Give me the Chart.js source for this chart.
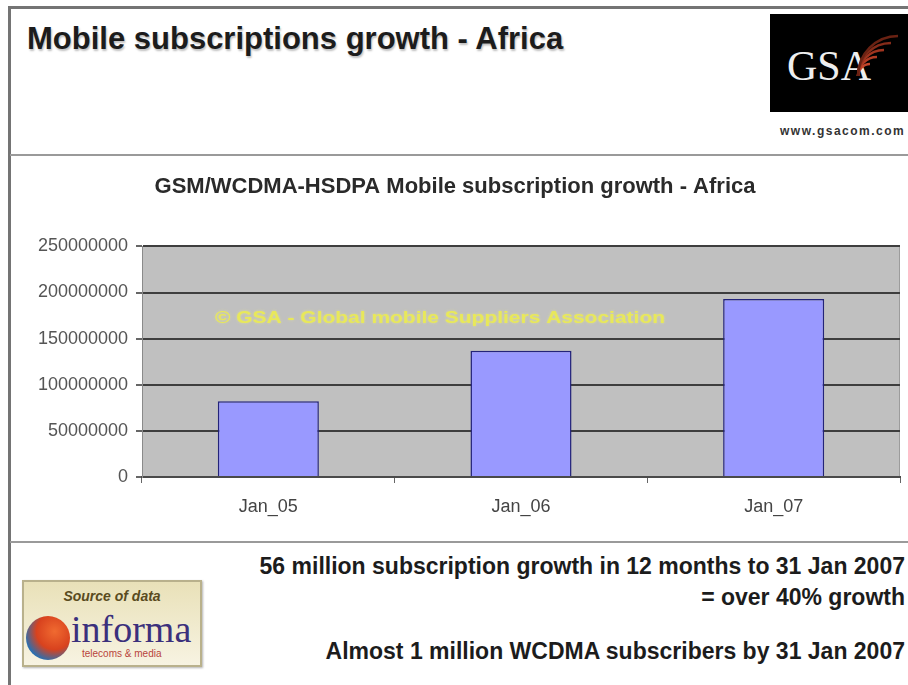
<!DOCTYPE html>
<html lang="en">
<head>
<meta charset="UTF-8">
<title>Mobile subscriptions growth - Africa</title>
<script src="https://cdn.jsdelivr.net/npm/chart.js"></script>
<style>
  body {
    margin: 0;
    width: 908px;
    height: 685px;
    background: #fff;
    position: relative;
    overflow: hidden;
    font-family: "Liberation Sans", Arial, sans-serif;
  }
  /* slide frame */
  .frame {
    position: absolute;
    left: 8px;
    top: 6px;
    width: 940px;
    height: 720px;
    border-left: 3px solid #747474;
    border-top: 3px solid #747474;
  }
  .heading {
    position: absolute;
    left: 27px;
    top: 21px;
    font-size: 31px;
    font-weight: bold;
    color: #1c1c1c;
    white-space: nowrap;
    text-shadow: 1px 2px 2px rgba(0, 0, 0, 0.25);
  }
  .gsa {
    position: absolute;
    left: 770px;
    top: 14px;
    width: 140px;
    height: 98px;
    background: #000;
  }
  .gsa span {
    position: absolute;
    left: 17px;
    top: 28px;
    font-family: "Liberation Serif", "DejaVu Serif", serif;
    font-size: 42px;
    color: #eee;
  }
  .gsa svg {
    position: absolute;
    left: 82px;
    top: 6px;
  }
  .gsa-url {
    position: absolute;
    left: 780px;
    top: 124px;
    font-size: 12px;
    font-weight: bold;
    letter-spacing: 1.5px;
    color: #333;
    white-space: nowrap;
  }
  /* panel holding the chart */
  .panel {
    position: absolute;
    left: 10px;
    top: 154px;
    width: 898px;
    height: 385px;
    border-top: 2px solid #9a9a9a;
    border-bottom: 2px solid #9a9a9a;
  }
  #chart {
    position: absolute;
    left: 10px;
    top: 156px;
  }
  .note {
    position: absolute;
    right: 3px;
    font-size: 23px;
    font-weight: bold;
    color: #1c1c1c;
    white-space: nowrap;
  }
  .source {
    position: absolute;
    left: 22px;
    top: 580px;
    width: 176px;
    height: 83px;
    background: linear-gradient(#e9e1b8, #f7f3e2);
    border: 2px solid #b9b18c;
    box-shadow: 1px 1px 2px rgba(0, 0, 0, 0.3);
  }
  .source .lbl {
    position: absolute;
    left: 0;
    width: 176px;
    top: 6px;
    text-align: center;
    font-size: 14px;
    font-style: italic;
    font-weight: bold;
    color: #5a4b1e;
  }
  .source .globe {
    position: absolute;
    left: 2px;
    top: 34px;
    width: 44px;
    height: 44px;
    border-radius: 50%;
    background: radial-gradient(circle at 65% 35%, #f06a30 0%, #d8421e 45%, #2a6fb0 75%, #1d4f8a 100%);
  }
  .source .brand {
    position: absolute;
    left: 47px;
    top: 25px;
    font-family: "Liberation Serif", "DejaVu Serif", serif;
    font-size: 38px;
    color: #3b307c;
  }
  .source .sub {
    position: absolute;
    left: 58px;
    top: 66px;
    font-size: 10px;
    color: #b8443c;
    white-space: nowrap;
  }
</style>
</head>
<body>

<div class="frame"></div>
<div class="heading">Mobile subscriptions growth - Africa</div>

<div class="gsa">
  <span>GSA</span>
  <svg width="56" height="64" viewBox="0 0 56 64">
    <g fill="none" stroke-width="2.5">
      <path d="M6 56 A 12 12 0 0 1 18 44" stroke="#c4452a"/>
      <path d="M6 56 A 19 19 0 0 1 25 37" stroke="#b33c24"/>
      <path d="M6 56 A 26 26 0 0 1 32 30" stroke="#a0341f"/>
      <path d="M6 56 A 33 33 0 0 1 39 23" stroke="#862b19"/>
      <path d="M6 56 A 40 40 0 0 1 46 16" stroke="#6a2213"/>
    </g>
  </svg>
</div>
<div class="gsa-url">www.gsacom.com</div>

<div class="panel"></div>
<canvas id="chart" width="898" height="384"></canvas>

<div class="note" style="top:553px">56 million subscription growth in 12 months to 31 Jan 2007</div>
<div class="note" style="top:584px">= over 40% growth</div>
<div class="note" style="top:638px">Almost 1 million WCDMA subscribers by 31 Jan 2007</div>

<div class="source">
  <div class="lbl">Source of data</div>
  <div class="globe"></div>
  <div class="brand">informa</div>
  <div class="sub">telecoms &amp; media</div>
</div>

<script>
  // subscriptions per year (January)
  const months = ['Jan_05', 'Jan_06', 'Jan_07'];
  const subscriptions = [82000000, 137000000, 193000000];
  const yTicks = [0, 50000000, 100000000, 150000000, 200000000, 250000000];

  const watermark = '\u00a9 GSA - Global mobile Suppliers Association';

  // grey plot background plus the yellow copyright line
  const plotArea = {
    id: 'plotArea',
    beforeDraw(chart) {
      const { ctx, chartArea: a } = chart;
      ctx.save();
      ctx.fillStyle = '#c0c0c0';
      ctx.fillRect(a.left, a.top, a.right - a.left, a.bottom - a.top);
      ctx.strokeStyle = '#9c9c9c';
      ctx.lineWidth = 1;
      ctx.beginPath();
      ctx.moveTo(a.right - 0.5, a.top);
      ctx.lineTo(a.right - 0.5, a.bottom);
      ctx.stroke();
      ctx.restore();
    },
    beforeDatasetsDraw(chart) {
      const { ctx, chartArea: a, scales } = chart;
      const y = scales.y.getPixelForValue(172000000);
      ctx.save();
      ctx.font = 'bold 16px "Liberation Sans", Arial, sans-serif';
      const w = ctx.measureText(watermark).width;
      ctx.translate(a.left + 73, y);
      ctx.scale(450 / w, 1);
      ctx.fillStyle = '#e8e85a';
      ctx.shadowColor = 'rgba(240, 240, 120, 0.6)';
      ctx.shadowBlur = 3;
      ctx.textBaseline = 'middle';
      ctx.fillText(watermark, 0, 0);
      ctx.restore();
    }
  };

  new Chart(document.getElementById('chart'), {
    type: 'bar',
    data: {
      labels: months,
      datasets: [{
        data: subscriptions,
        backgroundColor: '#9999ff',
        borderColor: '#23237a',
        borderWidth: 1.5,
        barPercentage: 0.4,
        categoryPercentage: 1
      }]
    },
    options: {
      responsive: false,
      animation: false,
      layout: { padding: { left: 0, right: 8, top: 0, bottom: 0 } },
      plugins: {
        legend: { display: false },
        tooltip: { enabled: false },
        title: {
          display: true,
          text: 'GSM/WCDMA-HSDPA Mobile subscription growth - Africa',
          color: '#2a2a2a',
          font: { family: '"Liberation Sans", Arial, sans-serif', size: 22 },
          padding: { top: 18, bottom: 46 }
        }
      },
      scales: {
        x: {
          offset: true,
          grid: {
            offset: true,
            drawOnChartArea: false,
            tickLength: 6,
            tickColor: '#666'
          },
          border: { color: '#4a4a4a', width: 2 },
          ticks: {
            color: '#444',
            padding: 13,
            font: { family: '"Liberation Sans", Arial, sans-serif', size: 18 }
          },
          afterFit(scale) { scale.height = 63; }
        },
        y: {
          min: 0,
          max: 250000000,
          afterBuildTicks(scale) {
            scale.ticks = yTicks.map(v => ({ value: v }));
          },
          grid: {
            color: '#3e3e3e',
            lineWidth: 2,
            tickLength: 6,
            tickColor: '#666'
          },
          border: { color: '#8a8a8a', width: 1 },
          ticks: {
            color: '#555',
            padding: 8,
            font: { family: '"Liberation Sans", Arial, sans-serif', size: 18 },
            callback: v => String(v)
          },
          afterFit(scale) { scale.width = 132; }
        }
      }
    },
    plugins: [plotArea]
  });
</script>
</body>
</html>
